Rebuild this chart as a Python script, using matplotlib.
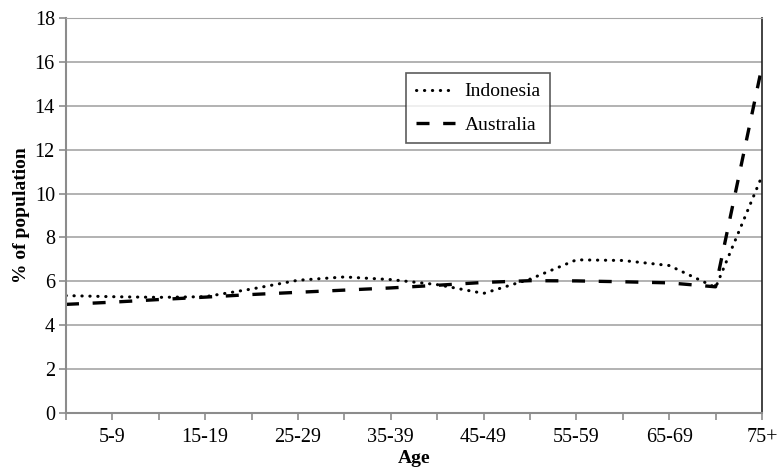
import matplotlib
matplotlib.use("Agg")
import matplotlib.pyplot as plt
import numpy as np

plt.rcParams['font.family'] = ['Liberation Serif', 'DejaVu Serif']

# age groups (only every other one gets a label)
ages = ["0-4", "5-9", "10-14", "15-19", "20-24", "25-29", "30-34", "35-39",
        "40-44", "45-49", "50-54", "55-59", "60-64", "65-69", "70-74", "75+"]
indonesia = [5.35, 5.3, 5.27, 5.3, 5.65, 6.05, 6.2, 6.08,
             5.85, 5.45, 6.1, 6.98, 6.95, 6.72, 5.72, 10.8]
australia = [4.95, 5.05, 5.17, 5.28, 5.4, 5.5, 5.6, 5.7,
             5.82, 5.95, 6.03, 6.02, 5.98, 5.93, 5.75, 15.8]
yticks = [0, 2, 4, 6, 8, 10, 12, 14, 16, 18]

fig = plt.figure(figsize=(7.8, 4.7), dpi=100)
ax = fig.add_axes([66/780, 1-413/470, (762-66)/780, (413-18)/470])

x = np.arange(len(ages))
ax.plot(x, indonesia, color='black', lw=2.2, linestyle=(0, (0.1, 2.5)),
        dash_capstyle='round', label='Indonesia')
ax.plot(x, australia, color='black', lw=2.4, linestyle=(0, (3.9, 4.1)),
        label='Australia')

ax.set_xlim(0, len(ages) - 1)
ax.set_ylim(0, 18)
ax.set_yticks(yticks)
ax.set_xticks(x)
ax.set_xticklabels([a if i % 2 == 1 else "" for i, a in enumerate(ages)])
ax.yaxis.grid(True, color='#a6a6a6', lw=1.2)
ax.set_axisbelow(True)

gray = '#8c8c8c'
ax.spines['left'].set_color(gray)
ax.spines['bottom'].set_color(gray)
ax.spines['left'].set_linewidth(1.5)
ax.spines['bottom'].set_linewidth(1.5)
ax.spines['top'].set_color('#a6a6a6')
ax.spines['right'].set_color('#222222')
ax.spines['right'].set_linewidth(1.2)
ax.tick_params(axis='both', color=gray, width=1.2, length=5, labelsize=14.5)
ax.tick_params(axis='x', pad=6)
ax.tick_params(axis='y', pad=3)

ax.set_ylabel("% of population", fontsize=14, fontweight='bold', labelpad=3)
ax.set_xlabel("Age", fontsize=14, fontweight='bold', labelpad=2)

leg = ax.legend(loc='upper left', bbox_to_anchor=(406/780, 1-73/470),
                bbox_transform=fig.transFigure, borderaxespad=0,
                fontsize=14, frameon=True, fancybox=False, handlelength=2.0,
                handletextpad=0.5, borderpad=0.5, labelspacing=0.8)
leg.get_frame().set_edgecolor('#333333')
leg.get_frame().set_linewidth(1.2)

fig.savefig("out.png", dpi=100)
